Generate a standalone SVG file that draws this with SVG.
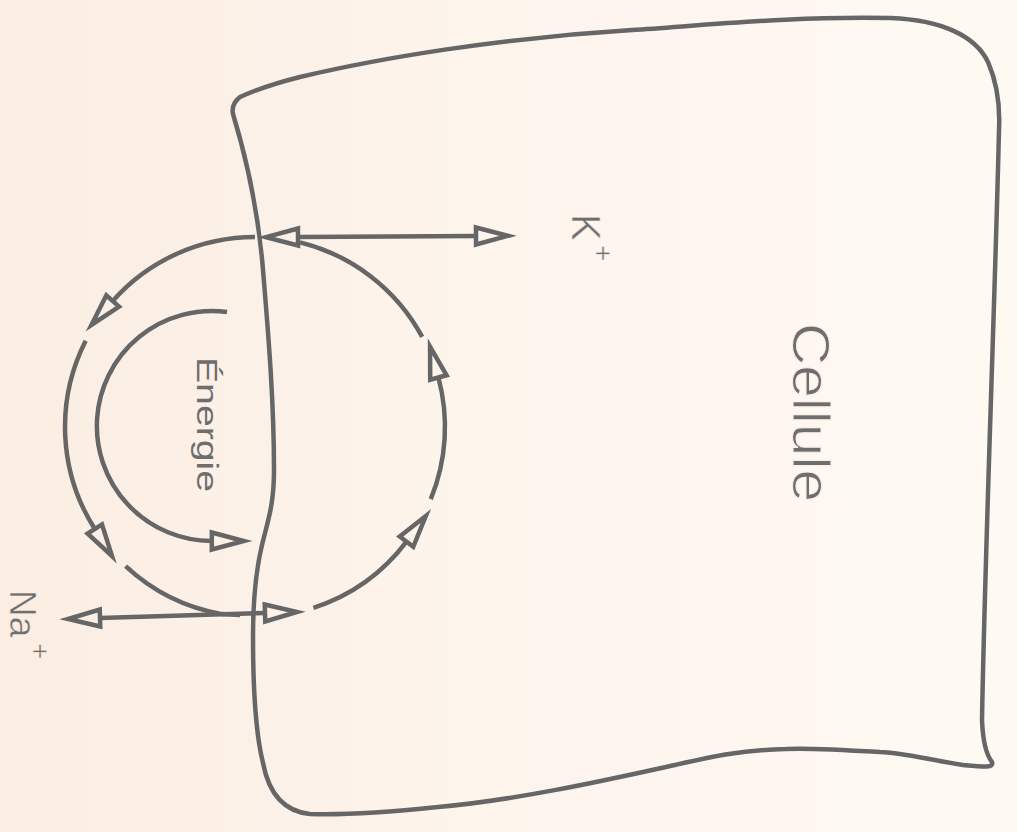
<svg xmlns="http://www.w3.org/2000/svg" width="1017" height="832" viewBox="0 0 1017 832">
  <defs>
    <linearGradient id="paper" gradientUnits="userSpaceOnUse" x1="0" y1="0" x2="1017" y2="0">
      <stop offset="0" stop-color="#fbede2"/>
      <stop offset="0.45" stop-color="#fdf4ec"/>
      <stop offset="1" stop-color="#fefaf2"/>
    </linearGradient>
    <marker id="tri" viewBox="-4 -12 42 24" refX="0" refY="0" markerWidth="42" markerHeight="24" markerUnits="userSpaceOnUse" orient="auto-start-reverse" overflow="visible">
      <path d="M0,-8.5 L32,0 L0,8.5 Z" fill="none" stroke="#666666" stroke-width="4.5" stroke-linejoin="miter"/>
    </marker>
    <style>
      .ln { fill: none; stroke: #666666; stroke-width: 4.5; stroke-linecap: butt; }
      .arr { marker-end: url(#tri); }
      .dbl { marker-start: url(#tri); marker-end: url(#tri); }
      .lbl { font-family: "Liberation Sans", Arial, sans-serif; fill: #6e6e6e; }
      .thin { stroke: url(#paper); stroke-width: 1; paint-order: fill; }
      .thin2 { stroke: url(#paper); stroke-width: 0.5; paint-order: fill; }
    </style>
  </defs>

  <rect x="0" y="0" width="1017" height="832" fill="url(#paper)"/>

  <g id="cell">
    <path class="ln" d="M240,97 C260,88 280,82 300,77 C380,58 500,38 632,30 C720,24 800,16 891,18 C940,20 975,35 988,62 C998,85 1000,110 999,130 C995,300 985,550 982,720 C983,745 988,757 992,762 C994,768 985,767 963,765 C930,760 900,752 880,752 C830,749 800,748 786,749 C740,750 710,757 675,765 C620,777 520,800 438,807 C380,813 340,815 310,814 C290,812 270,800 263,763 C256,735 253,690 253,637 C253,600 256,570 262,545 C268,520 274,505 274,470 C274,400 268,330 263,270 C259,220 250,170 233,114 Q231,104 240,97 Z"/>
    <text id="cellule-label" class="lbl thin" font-size="51" textLength="179" lengthAdjust="spacingAndGlyphs" transform="translate(793,323) rotate(90)">Cellule</text>
  </g>

  <g id="energie">
    <text class="lbl" font-size="29" textLength="135" lengthAdjust="spacingAndGlyphs" transform="translate(197,357) rotate(90)">Énergie</text>
  </g>

  <g id="k-ion">
    <text class="lbl thin2" font-size="40" transform="translate(572,214) rotate(90)">K<tspan x="31" y="-22" font-size="28">+</tspan></text>
  </g>

  <g id="na-ion">
    <text class="lbl thin2" font-size="37" transform="translate(10,590) rotate(90)">Na<tspan x="53" y="-21" font-size="28">+</tspan></text>
  </g>

  <g id="connectors">
    <!-- K+ double arrow -->
    <path class="ln dbl" d="M298,237 L476,236"/>
    <!-- Na+ double arrow -->
    <path class="ln dbl" d="M100,618 L265,613"/>
    <!-- pump cycle, left side (downward) -->
    <path class="ln arr" d="M255,237 A190,190 0 0 0 112.7,301"/>
    <path class="ln arr" d="M85.7,340.7 A190,190 0 0 0 94.8,529"/>
    <path class="ln" d="M125.6,566.1 A190,190 0 0 0 222,614.1 L240,615"/>
    <!-- pump cycle, right side (upward) -->
    <path class="ln" d="M300,242.4 A190,190 0 0 1 422.2,336.9"/>
    <path class="ln arr" d="M430.8,499.1 A190,190 0 0 0 438.4,377.5"/>
    <path class="ln arr" d="M313.4,607.8 A190,190 0 0 0 406.5,541.6"/>
    <!-- energy arc -->
    <path class="ln arr" d="M227,312 A115,115 0 1 0 211.8,541"/>
  </g>
</svg>
